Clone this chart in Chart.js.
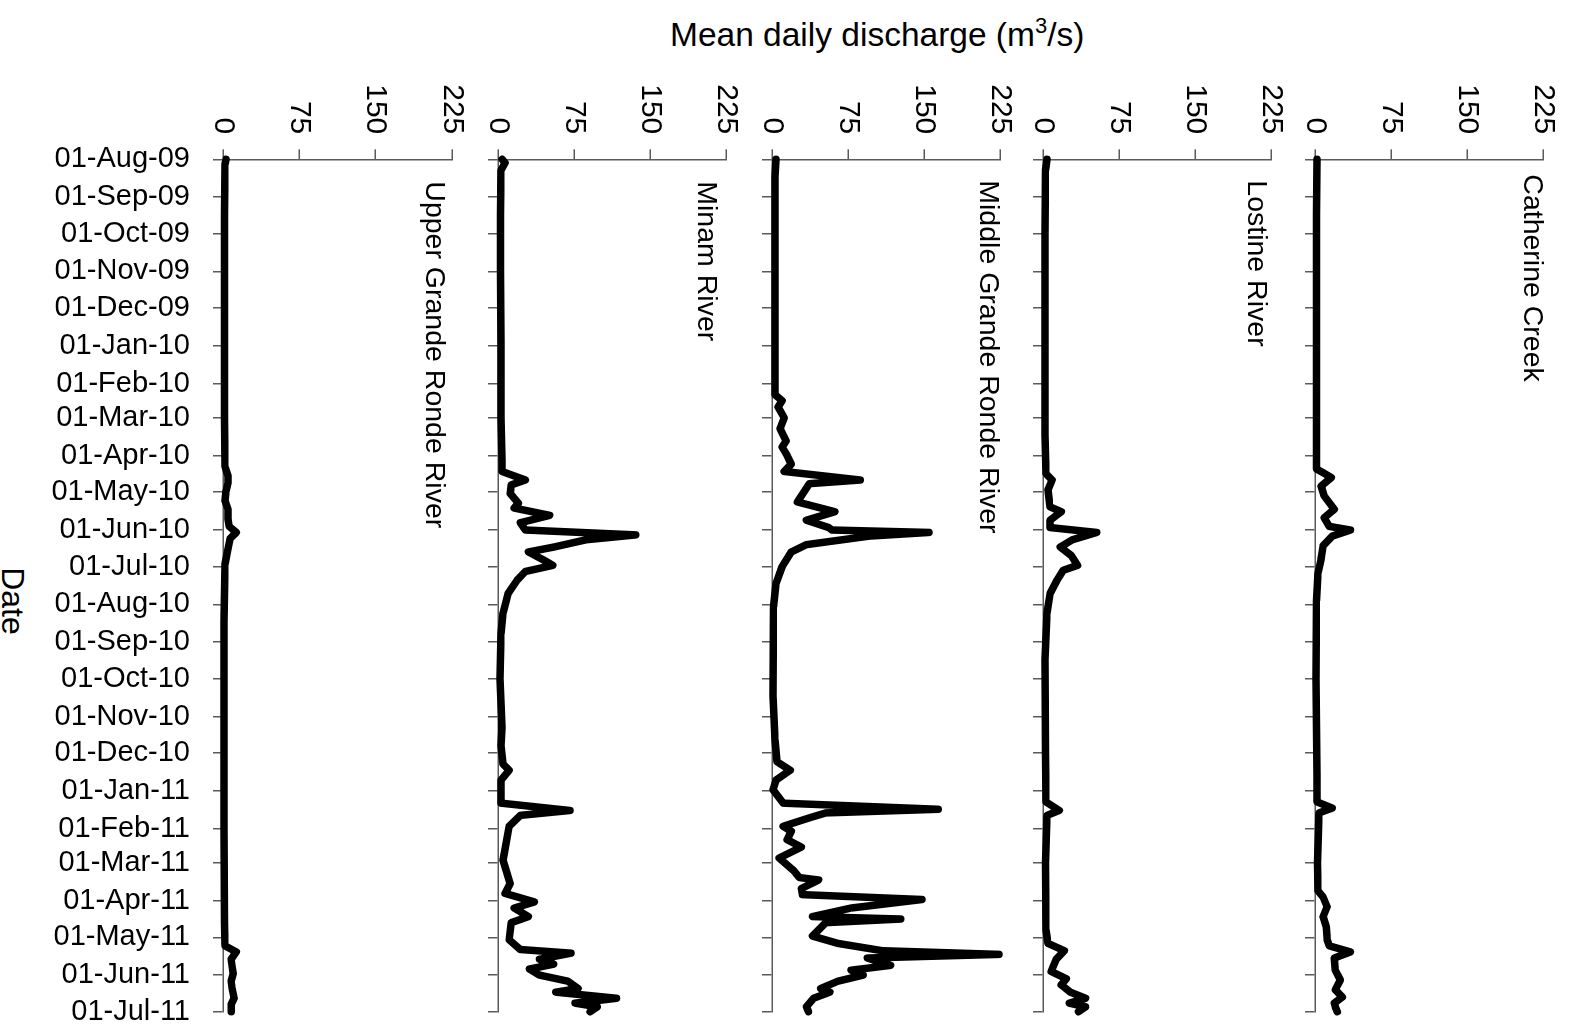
<!DOCTYPE html>
<html>
<head>
<meta charset="utf-8">
<script src="https://cdn.jsdelivr.net/npm/chart.js@4.4.1/dist/chart.umd.min.js"></script>
<style>
  html, body { margin: 0; padding: 0; background: #fff; overflow: hidden; }
  body { width: 1579px; height: 1029px; position: relative; font-family: "Liberation Sans", Arial, sans-serif; }
  /* panels are drawn as a landscape figure, then turned a quarter clockwise */
  #rot { position: absolute; left: 0; top: 0; width: 1100px; height: 1579px;
         transform-origin: 0 0; transform: rotate(90deg) translateY(-100%); }
  #rot canvas { position: absolute; left: 0; }
  .lbl { position: absolute; color: #000; white-space: nowrap; line-height: 1; }
  #ytitle { left: 670px; top: 18px; font-size: 33.5px; }
  #ytitle sup { font-size: 22px; vertical-align: 0; position: relative; top: -13px; }
  #xtitle { left: 13px; top: 601px; font-size: 32px; transform: translate(-50%, -50%) rotate(90deg); }
</style>
</head>
<body>
<div id="ytitle" class="lbl">Mean daily discharge (m<sup>3</sup>/s)</div>
<div id="xtitle" class="lbl">Date</div>
<div id="rot"></div>
<script>
// ---- data ----
const dateTicks = ['01-Aug-09','01-Sep-09','01-Oct-09','01-Nov-09','01-Dec-09','01-Jan-10','01-Feb-10',
  '01-Mar-10','01-Apr-10','01-May-10','01-Jun-10','01-Jul-10','01-Aug-10','01-Sep-10','01-Oct-10',
  '01-Nov-10','01-Dec-10','01-Jan-11','01-Feb-11','01-Mar-11','01-Apr-11','01-May-11','01-Jun-11','01-Jul-11'];
const valueTicks = [0, 75, 150, 225];

const upperDates = ['2009-08-01','2009-08-05','2009-09-15','2009-11-01','2010-01-01','2010-03-01','2010-04-10',
  '2010-04-18','2010-04-23','2010-04-30','2010-05-08','2010-05-15','2010-05-23','2010-05-29','2010-06-03',
  '2010-06-08','2010-06-16','2010-06-29','2010-08-15','2010-11-01','2011-02-01','2011-04-20','2011-05-08',
  '2011-05-13','2011-05-19','2011-05-25','2011-05-31','2011-06-06','2011-06-12','2011-06-20','2011-06-25','2011-07-01'];
const upperFlow = [3,2,1.5,1.5,1.5,1.5,2,5,5,3,2,5,5,6,13,7,5,2,1,1,1,1.5,2,13,8,9,10,8,9,11,8,8];

const minamDates = ['2009-08-01','2009-08-04','2009-08-10','2009-09-15','2009-11-01','2010-01-01','2010-03-01',
  '2010-04-05','2010-04-14','2010-04-21','2010-04-25','2010-05-02','2010-05-10','2010-05-14','2010-05-20',
  '2010-05-26','2010-06-01','2010-06-05','2010-06-09','2010-06-15','2010-06-19','2010-06-26','2010-06-30',
  '2010-07-05','2010-07-12','2010-07-23','2010-08-08','2010-08-25','2010-10-01','2010-11-10','2010-11-25',
  '2010-12-10','2010-12-15','2010-12-23','2011-01-11','2011-01-17','2011-01-21','2011-01-30','2011-02-27',
  '2011-03-18','2011-03-26','2011-04-02','2011-04-07','2011-04-14','2011-04-19','2011-05-03','2011-05-11',
  '2011-05-14','2011-05-19','2011-05-23','2011-05-27','2011-06-01','2011-06-06','2011-06-12','2011-06-15',
  '2011-06-20','2011-06-24','2011-06-27','2011-07-01'];
const minamFlow = [4,7,3,2.5,2.5,3,3,4,4,27,13,12,20,16,51,22,27,136,87,55,30,46,54,27,19,10,5,3,2,4,
  3,5,11,3,3,71,22,11,5,12,7,36,16,30,13,11,22,72,41,55,31,41,69,79,57,117,76,98,91];

const middleDates = ['2009-08-01','2009-08-15','2009-10-01','2009-12-01','2010-01-20','2010-02-10','2010-02-15',
  '2010-02-20','2010-03-01','2010-03-10','2010-03-20','2010-03-25','2010-04-01','2010-04-08','2010-04-14',
  '2010-04-21','2010-04-24','2010-05-09','2010-05-17','2010-05-24','2010-05-30','2010-06-01','2010-06-03',
  '2010-06-06','2010-06-13','2010-06-19','2010-07-01','2010-07-15','2010-08-03','2010-10-15','2010-11-20',
  '2010-12-08','2010-12-15','2010-12-23','2010-12-31','2011-01-11','2011-01-16','2011-01-19','2011-01-23',
  '2011-01-30','2011-02-03','2011-02-10','2011-02-16','2011-02-25','2011-03-07','2011-03-13','2011-03-15',
  '2011-03-22','2011-03-27','2011-03-31','2011-04-07','2011-04-14','2011-04-16','2011-04-19','2011-04-30',
  '2011-05-06','2011-05-12','2011-05-15','2011-05-18','2011-05-24','2011-05-28','2011-06-01','2011-06-06',
  '2011-06-12','2011-06-15','2011-06-20','2011-06-27','2011-07-01'];
const middleFlow = [4,3,3,3,3,3,10,6,12,8,14,10,15,19,12,87,37,25,62,34,56,59,155,96,34,19,10,4,1.5,1,
  3,5,18,4,1,11,164,53,37,11,19,15,29,7,21,27,46,29,30,148,78,40,127,53,40,65,109,224,94,117,
  78,90,65,48,57,41,34,36];

const lostineDates = ['2009-08-01','2009-08-10','2009-10-01','2010-01-01','2010-03-15','2010-04-16','2010-04-21',
  '2010-04-29','2010-05-13','2010-05-17','2010-05-24','2010-05-30','2010-06-03','2010-06-09','2010-06-15',
  '2010-06-22','2010-06-30','2010-07-04','2010-07-12','2010-07-23','2010-08-08','2010-09-15','2010-12-01',
  '2011-01-10','2011-01-17','2011-01-21','2011-03-01','2011-04-25','2011-05-06','2011-05-12','2011-05-19',
  '2011-05-29','2011-06-04','2011-06-09','2011-06-15','2011-06-20','2011-06-24','2011-06-27','2011-07-01'];
const lostineFlow = [4,2.5,2,2,2,3,9,5,7,18,7,7,53,29,17,28,34,20,14,7,4,2,2.5,3,16,4,2.5,3,5,21,
  13,8,23,18,27,42,26,42,35];

const catherineDates = ['2009-08-01','2009-09-15','2009-11-15','2010-01-15','2010-03-15','2010-04-12','2010-04-15',
  '2010-04-19','2010-04-26','2010-05-04','2010-05-15','2010-05-22','2010-05-29','2010-06-01','2010-06-06',
  '2010-06-14','2010-06-25','2010-07-06','2010-07-29','2010-10-01','2010-12-20','2011-01-10','2011-01-15',
  '2011-01-19','2011-03-01','2011-03-24','2011-03-29','2011-04-06','2011-04-14','2011-04-22','2011-05-03',
  '2011-05-08','2011-05-13','2011-05-18','2011-05-28','2011-06-05','2011-06-13','2011-06-19','2011-06-24',
  '2011-06-27','2011-07-01'];
const catherineFlow = [2,1.5,1.5,1.5,1.5,1.5,8,16,6,9,19,9,14,35,17,8,6,3,1.5,1,2,2,17,4,2.5,3,8,12,8,11,
  12,14,35,19,20,25,20,27,19,20,22];

// ---- layout (screen px) ----
const FIG_W = 1579;          // screen width = landscape height
const CANVAS_W = 1100;       // landscape width (screen height, overflow hidden)
const PLOT_LEFT = 159.3;     // screen y of first date
const PLOT_RIGHT = 1011.7;   // screen y of last date
const PLOT_H = 238;          // 0..225 span
const PAD_TOP = 24, PAD_BOTTOM = 20;
const AXIS = '#5a5a5a';

const panels = [
  { name: 'Upper Grande Ronde River', dates: upperDates, flow: upperFlow, zero: 223, dates_on: true, tx: 22, ty: 6 },
  { name: 'Minam River', dates: minamDates, flow: minamFlow, zero: 497, tx: 22, ty: 8 },
  { name: 'Middle Grande Ronde River', dates: middleDates, flow: middleFlow, zero: 771, tx: 21, ty: 0 },
  { name: 'Lostine River', dates: lostineDates, flow: lostineFlow, zero: 1042.5, tx: 21, ty: 3 },
  { name: 'Catherine Creek', dates: catherineDates, flow: catherineFlow, zero: 1314, tx: 15, ty: -1 }
];

const MONTHS = ['Jan','Feb','Mar','Apr','May','Jun','Jul','Aug','Sep','Oct','Nov','Dec'];
const START = Date.UTC(2009, 7, 1);
const dayOf = s => (Date.UTC(+s.slice(0, 4), +s.slice(5, 7) - 1, +s.slice(8, 10)) - START) / 864e5;
const tickDay = s => {
  const [d, m, y] = s.split('-');
  return (Date.UTC(2000 + +y, MONTHS.indexOf(m), +d) - START) / 864e5;
};
const tickDays = dateTicks.map(tickDay);

const FONT = '"Liberation Sans", Arial, sans-serif';

const panelTitle = {
  id: 'panelTitle',
  afterDatasetsDraw(chart, args, opts) {
    const { ctx, chartArea } = chart;
    ctx.save();
    ctx.font = opts.size + 'px ' + FONT;
    ctx.fillStyle = '#000';
    ctx.textBaseline = 'alphabetic';
    ctx.fillText(opts.text, chartArea.left + opts.dx, chartArea.top + opts.dy + 0.716 * opts.size);
    ctx.restore();
  }
};

const rot = document.getElementById('rot');
panels.forEach(p => {
  const xAxisH = p.dates_on ? 200 : 12;
  const canvas = document.createElement('canvas');
  canvas.width = CANVAS_W;
  canvas.height = PAD_TOP + PLOT_H + xAxisH + PAD_BOTTOM;
  const vTop = FIG_W - p.zero - PLOT_H;
  canvas.style.top = (vTop - PAD_TOP) + 'px';
  rot.appendChild(canvas);

  new Chart(canvas, {
    type: 'line',
    data: {
      datasets: [{
        data: p.dates.map((d, i) => ({ x: dayOf(d), y: p.flow[i] })),
        borderColor: '#000',
        borderWidth: 7.5,
        pointRadius: 0,
        tension: 0,
        borderJoinStyle: 'round',
        borderCapStyle: 'round',
        clip: false
      }]
    },
    options: {
      responsive: false,
      animation: false,
      devicePixelRatio: 1,
      layout: { padding: { left: 0, right: CANVAS_W - PLOT_RIGHT, top: PAD_TOP, bottom: PAD_BOTTOM } },
      plugins: {
        legend: { display: false },
        tooltip: { enabled: false },
        panelTitle: { text: p.name, size: 28.5, dx: p.tx, dy: p.ty }
      },
      scales: {
        x: {
          type: 'linear',
          position: 'bottom',
          min: 0,
          max: tickDays[tickDays.length - 1],
          afterBuildTicks: s => { s.ticks = tickDays.map(v => ({ value: v })); },
          afterFit: s => { s.height = xAxisH; },
          grid: { drawOnChartArea: false, drawTicks: true, tickLength: 10, color: AXIS, lineWidth: 1.5 },
          border: { color: AXIS, width: 1.5 },
          ticks: {
            display: !!p.dates_on,
            autoSkip: false,
            minRotation: 90,
            maxRotation: 90,
            padding: 23,
            color: '#000',
            font: { family: FONT, size: 29 },
            callback: v => dateTicks[tickDays.indexOf(v)]
          }
        },
        y: {
          min: 0,
          max: 225,
          afterBuildTicks: s => { s.ticks = valueTicks.map(v => ({ value: v })); },
          afterFit: s => { s.width = PLOT_LEFT; },
          grid: { drawOnChartArea: false, drawTicks: true, tickLength: 10, color: AXIS, lineWidth: 1.5 },
          border: { color: AXIS, width: 1.5 },
          ticks: { padding: 15, color: '#000', font: { family: FONT, size: 30 } }
        }
      }
    },
    plugins: [panelTitle]
  });
});
</script>
</body>
</html>
